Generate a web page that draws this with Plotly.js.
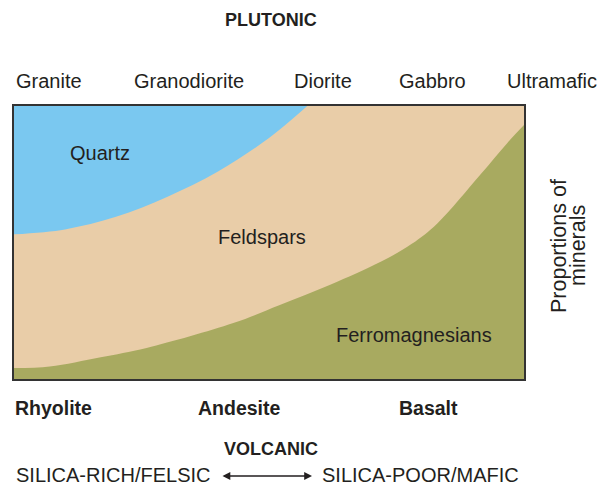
<!DOCTYPE html>
<html>
<head>
<meta charset="utf-8">
<script src="https://cdn.plot.ly/plotly-3.0.1.min.js"></script>
<style>
  body { margin: 0; background: #fff; }
  #graph { width: 601px; height: 486px; }
</style>
</head>
<body>
<div id="graph"></div>
<script>
// boundary between quartz and feldspars (percent along, percent up)
var quartzEdgeX = [0, 10, 20, 30, 40, 50, 57.5];
var quartzEdgeY = [53, 54.8, 59.4, 66.7, 76, 88.3, 100];

// boundary between feldspars and ferromagnesians
var ferroEdgeX = [0, 7, 17, 26, 43, 52, 62, 72, 78, 83, 91.5, 96.7, 100];
var ferroEdgeY = [4, 4.6, 8, 11.4, 20.5, 27, 34.5, 43, 49.5, 57, 75, 86.4, 93];

var plutonic = ["Granite", "Granodiorite", "Diorite", "Gabbro", "Ultramafic"];
var plutonicPos = [49, 189, 323, 432, 552];
var volcanic = ["Rhyolite", "Andesite", "Basalt"];
var volcanicPos = [53, 239, 428];

var textColor = "#231f20";
var font = "Liberation Sans, Arial, sans-serif";

// pixel -> paper helpers (plot area is 14..524 x 106..379)
var px = function(x) { return (x - 14) / 510; };
var py = function(y) { return (379 - y) / 273; };

var data = [
  // feldspars fill the whole box, the others are laid over it
  {
    x: [0, 100], y: [100, 100],
    type: "scatter", mode: "lines", fill: "tozeroy",
    fillcolor: "rgb(233, 205, 168)", line: {width: 0}
  },
  {
    x: quartzEdgeX, y: quartzEdgeY,
    type: "scatter", mode: "lines",
    line: {width: 0, shape: "spline"}
  },
  {
    x: [0, 57.5], y: [100, 100],
    type: "scatter", mode: "lines", fill: "tonexty",
    fillcolor: "rgb(122, 200, 240)", line: {width: 0}
  },
  {
    x: ferroEdgeX, y: ferroEdgeY,
    type: "scatter", mode: "lines", fill: "tozeroy",
    fillcolor: "rgb(168, 170, 96)", line: {width: 0, shape: "spline"}
  }
];

var ann = [];
var label = function(text, x, y, size, bold, extra) {
  var a = {
    text: bold ? "<b>" + text + "</b>" : text,
    xref: "paper", yref: "paper", x: px(x), y: py(y),
    xanchor: "center", yanchor: "middle", showarrow: false,
    font: {family: font, size: size, color: textColor}
  };
  for (var k in extra) a[k] = extra[k];
  ann.push(a);
};

label("PLUTONIC", 271, 20, 18, true);
plutonic.forEach(function(t, i) { label(t, plutonicPos[i], 81, 20, false); });
volcanic.forEach(function(t, i) { label(t, volcanicPos[i], 408, 19.5, true); });
label("VOLCANIC", 271, 449, 18, true);
label("SILICA-RICH/FELSIC", 113, 475, 20, false);
label("SILICA-POOR/MAFIC", 420, 475, 20, false);
label("Quartz", 100, 153, 20, false);
label("Feldspars", 262, 237, 20, false);
label("Ferromagnesians", 414, 335, 20, false);
label("Proportions of", 559, 246, 21.5, false, {textangle: -90});
label("minerals", 578, 246, 21.5, false, {textangle: -90});

// double-headed arrow
ann.push({
  text: "", xref: "paper", yref: "paper", x: px(312), y: py(476),
  ax: px(221), ay: py(476), axref: "paper", ayref: "paper",
  showarrow: true, arrowhead: 2, arrowside: "end+start",
  arrowsize: 1.2, arrowwidth: 1.3, arrowcolor: textColor
});

var layout = {
  width: 601,
  height: 486,
  showlegend: false,
  paper_bgcolor: "#fff",
  plot_bgcolor: "#fff",
  margin: {l: 14, r: 77, t: 106, b: 107},
  xaxis: {
    range: [0, 100], showgrid: false, zeroline: false, showticklabels: false,
    ticks: "", showline: true, mirror: true, linecolor: "#333", linewidth: 2
  },
  yaxis: {
    range: [0, 100], showgrid: false, zeroline: false, showticklabels: false,
    ticks: "", showline: true, mirror: true, linecolor: "#333", linewidth: 2
  },
  annotations: ann
};

Plotly.newPlot(document.getElementById("graph"), data, layout, {staticPlot: true});
</script>
</body>
</html>
